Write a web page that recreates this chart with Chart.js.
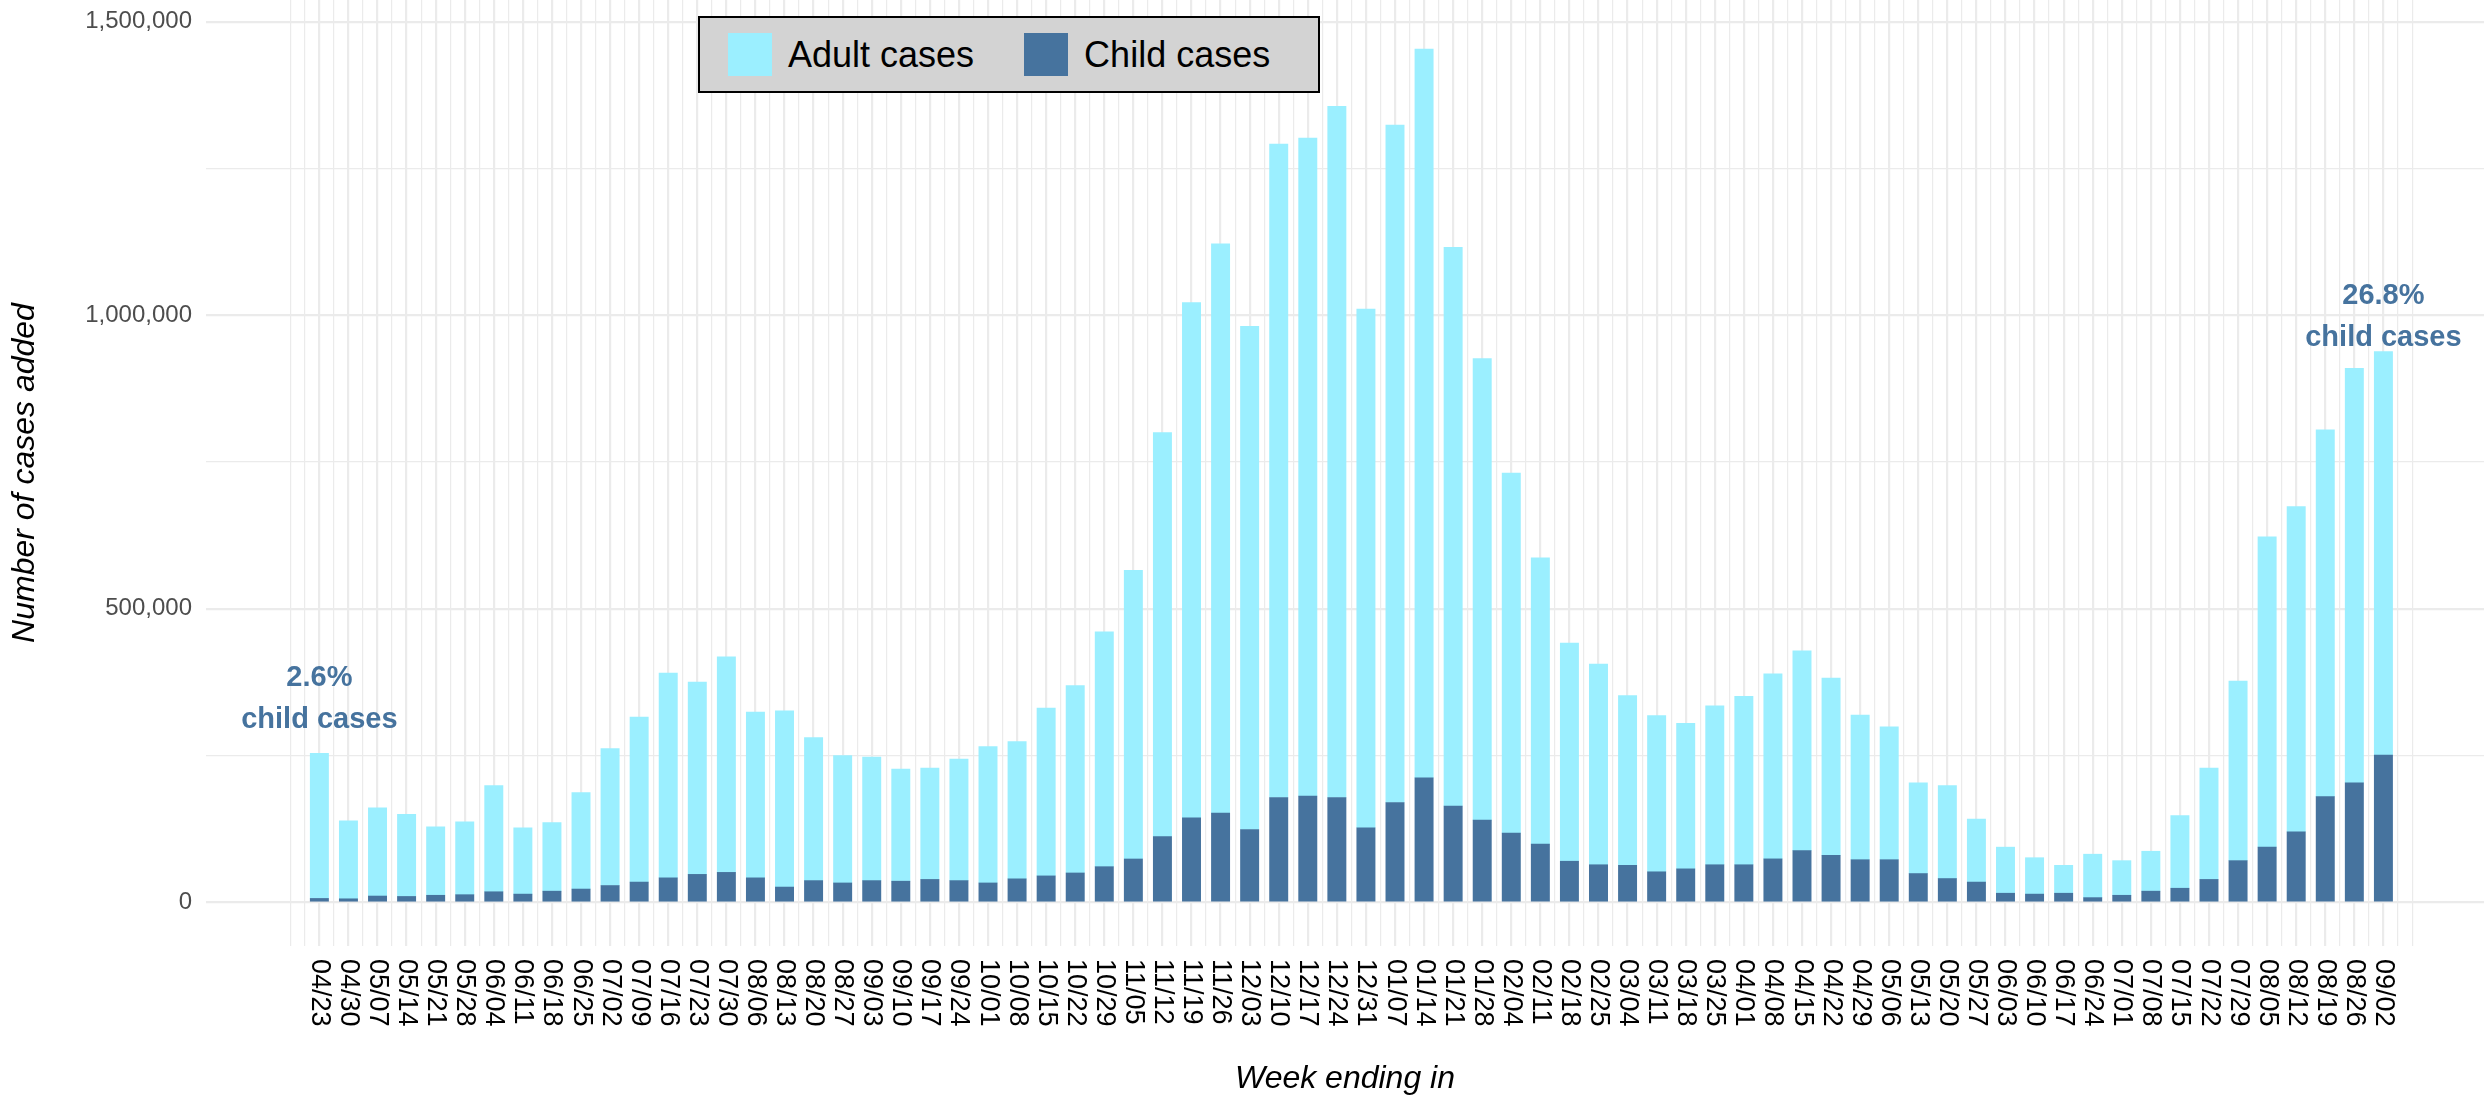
<!DOCTYPE html>
<html>
<head>
<meta charset="utf-8">
<script src="https://cdn.jsdelivr.net/npm/chart.js@4/dist/chart.umd.min.js"></script>
<style>
  html, body { margin: 0; padding: 0; background: #fff; }
  #wrap { position: relative; width: 2484px; height: 1098px; }
  #legend {
    position: absolute; left: 698px; top: 16px; width: 622px; height: 77px;
    box-sizing: border-box;
    background: #d3d3d3; border: 2px solid #000;
    font-family: "Liberation Sans", Arial, sans-serif; font-size: 36px; color: #000;
    display: flex; align-items: flex-start; padding-top: 15px; padding-left: 28px;
  }
  #legend .sw { width: 44px; height: 43px; margin-right: 16px; }
  #legend .lab { line-height: 43px; white-space: nowrap; }
  #legend .item + .item { margin-left: 50px; }
  #legend .item { display: flex; align-items: flex-start; }
</style>
</head>
<body>
<div id="wrap">
  <canvas id="cases" width="2484" height="1098"></canvas>
  <div id="legend"></div>
</div>
<script>
// week ending dates
var weeks = ['04/23','04/30','05/07','05/14','05/21','05/28','06/04','06/11','06/18','06/25',
  '07/02','07/09','07/16','07/23','07/30','08/06','08/13','08/20','08/27','09/03',
  '09/10','09/17','09/24','10/01','10/08','10/15','10/22','10/29','11/05','11/12',
  '11/19','11/26','12/03','12/10','12/17','12/24','12/31','01/07','01/14','01/21',
  '01/28','02/04','02/11','02/18','02/25','03/04','03/11','03/18','03/25','04/01',
  '04/08','04/15','04/22','04/29','05/06','05/13','05/20','05/27','06/03','06/10',
  '06/17','06/24','07/01','07/08','07/15','07/22','07/29','08/05','08/12','08/19',
  '08/26','09/02'];

var adultCases = [247000,133000,150300,140000,116600,124000,181000,113000,117000,164400,
  233400,281000,348800,327400,367000,282300,300000,243500,217000,210600,
  191000,189600,207000,232500,234000,286000,319000,400000,491700,688000,
  877500,969500,857000,1113100,1121000,1177400,883700,1154000,1241600,951500,
  786000,613000,488000,371700,342000,289000,266000,248000,270500,287000,
  315000,340600,302000,246400,226400,154600,158500,107200,78500,62000,
  47500,74000,59000,68000,123600,189600,306000,528600,554000,625000,
  705900,687000];

var childCases = [6600,6000,10700,10000,12000,13000,18000,14000,19000,22600,
  28600,34500,41700,47600,51000,41700,26000,37000,33000,37000,
  36000,39000,37000,33000,40000,45000,50000,60700,73800,112000,
  144000,152000,124000,178600,181000,178600,127000,170000,212000,164000,
  140000,118000,99000,70000,64000,63000,52000,57000,64000,64000,
  74000,88000,80000,72600,72600,49000,40500,34500,15500,14000,
  15500,8000,12000,19000,24000,39000,71000,94000,120000,180000,
  203600,251000];

var seriesNames = ['Adult cases', 'Child cases'];
var seriesColors = ['#9befff', '#46739e'];

// y gridlines; only some carry a label
var yTicks = [0, 250000, 500000, 750000, 1000000, 1250000, 1500000];
var yLabelled = [0, 500000, 1000000, 1500000];

// text notes: bar index, y level, lines
var noteBars = [0, 71];
var noteLevels = [347000, 997000];
var noteLines = [['2.6%', 'child cases'], ['26.8%', 'child cases']];

var FONT = '"Liberation Sans", Arial, Helvetica, sans-serif';
var GRID = '#ebebeb';

function toPoints(vals) {
  return vals.map(function(v, i) { return {x: i, y: v}; });
}

// legend box
var legendHtml = '';
for (var i = 0; i < seriesNames.length; i++) {
  legendHtml += '<div class="item"><div class="sw" style="background:' + seriesColors[i] + '"></div>' +
    '<span class="lab">' + seriesNames[i] + '</span></div>';
}
document.getElementById('legend').innerHTML = legendHtml;

var weekLabels = {
  id: 'weekLabels',
  afterDraw: function(chart) {
    var xs = chart.scales.x;
    var ctx = chart.ctx;
    ctx.save();
    ctx.font = '27px ' + FONT;
    ctx.fillStyle = '#000';
    ctx.textAlign = 'left';
    ctx.textBaseline = 'middle';
    for (var i = 0; i < weeks.length; i++) {
      ctx.save();
      ctx.translate(xs.getPixelForValue(i), chart.chartArea.bottom + 13);
      ctx.rotate(Math.PI / 2);
      ctx.fillText(weeks[i], 0, 0);
      ctx.restore();
    }
    ctx.restore();
  }
};

var notes = {
  id: 'notes',
  afterDatasetsDraw: function(chart) {
    var xs = chart.scales.x, ys = chart.scales.y;
    var ctx = chart.ctx;
    ctx.save();
    ctx.font = 'bold 29px ' + FONT;
    ctx.fillStyle = seriesColors[1];
    ctx.textAlign = 'center';
    ctx.textBaseline = 'middle';
    for (var k = 0; k < noteBars.length; k++) {
      var cx = xs.getPixelForValue(noteBars[k]);
      var cy = ys.getPixelForValue(noteLevels[k]);
      ctx.fillText(noteLines[k][0], cx, cy - 21);
      ctx.fillText(noteLines[k][1], cx, cy + 21);
    }
    ctx.restore();
  }
};

var chart = new Chart(document.getElementById('cases').getContext('2d'), {
  type: 'bar',
  data: {
    datasets: [
      {label: seriesNames[1], data: toPoints(childCases), backgroundColor: seriesColors[1]},
      {label: seriesNames[0], data: toPoints(adultCases), backgroundColor: seriesColors[0]}
    ]
  },
  options: {
    responsive: false,
    animation: false,
    devicePixelRatio: 1,
    layout: {padding: 0},
    datasets: {bar: {barThickness: 18.3}},
    plugins: {legend: {display: false}, tooltip: {enabled: false}},
    scales: {
      x: {
        type: 'linear',
        stacked: true,
        min: -3.9,
        max: 74.46,
        offset: false,
        border: {display: false},
        grid: {
          offset: false,
          drawTicks: false,
          color: function(c) {
            return (c.tick && c.tick.value >= -1 && c.tick.value <= weeks.length) ? GRID : 'rgba(0,0,0,0)';
          },
          lineWidth: function(c) {
            var v = c.tick ? c.tick.value : -9;
            return (Number.isInteger(v) && v >= 0 && v < weeks.length) ? 2.2 : 1.2;
          }
        },
        ticks: {display: false, stepSize: 0.5, includeBounds: false},
        title: {display: true, text: 'Week ending in', color: '#000',
          font: {family: FONT, size: 32, style: 'italic'}, padding: {top: 0, bottom: 0}},
        afterFit: function(s) { s.height = 152; s.paddingLeft = 0; s.paddingRight = 0; }
      },
      y: {
        type: 'linear',
        stacked: true,
        min: -74400,
        max: 1537000,
        border: {display: false},
        grid: {
          drawTicks: false,
          color: GRID,
          lineWidth: function(c) {
            return (c.tick && yLabelled.indexOf(c.tick.value) >= 0) ? 2.2 : 1.2;
          }
        },
        afterBuildTicks: function(s) {
          s.ticks = yTicks.map(function(v) { return {value: v}; });
        },
        ticks: {
          padding: 14,
          color: '#4d4d4d',
          font: {family: FONT, size: 24},
          callback: function(v) { return yLabelled.indexOf(v) >= 0 ? v.toLocaleString('en-US') : ''; }
        },
        title: {display: true, text: 'Number of cases added', color: '#000',
          font: {family: FONT, size: 32, style: 'italic'}, padding: {top: 6, bottom: 0}},
        afterFit: function(s) { s.width = 206; s.paddingTop = 0; s.paddingBottom = 0; }
      }
    }
  },
  plugins: [weekLabels, notes]
});
</script>
</body>
</html>
